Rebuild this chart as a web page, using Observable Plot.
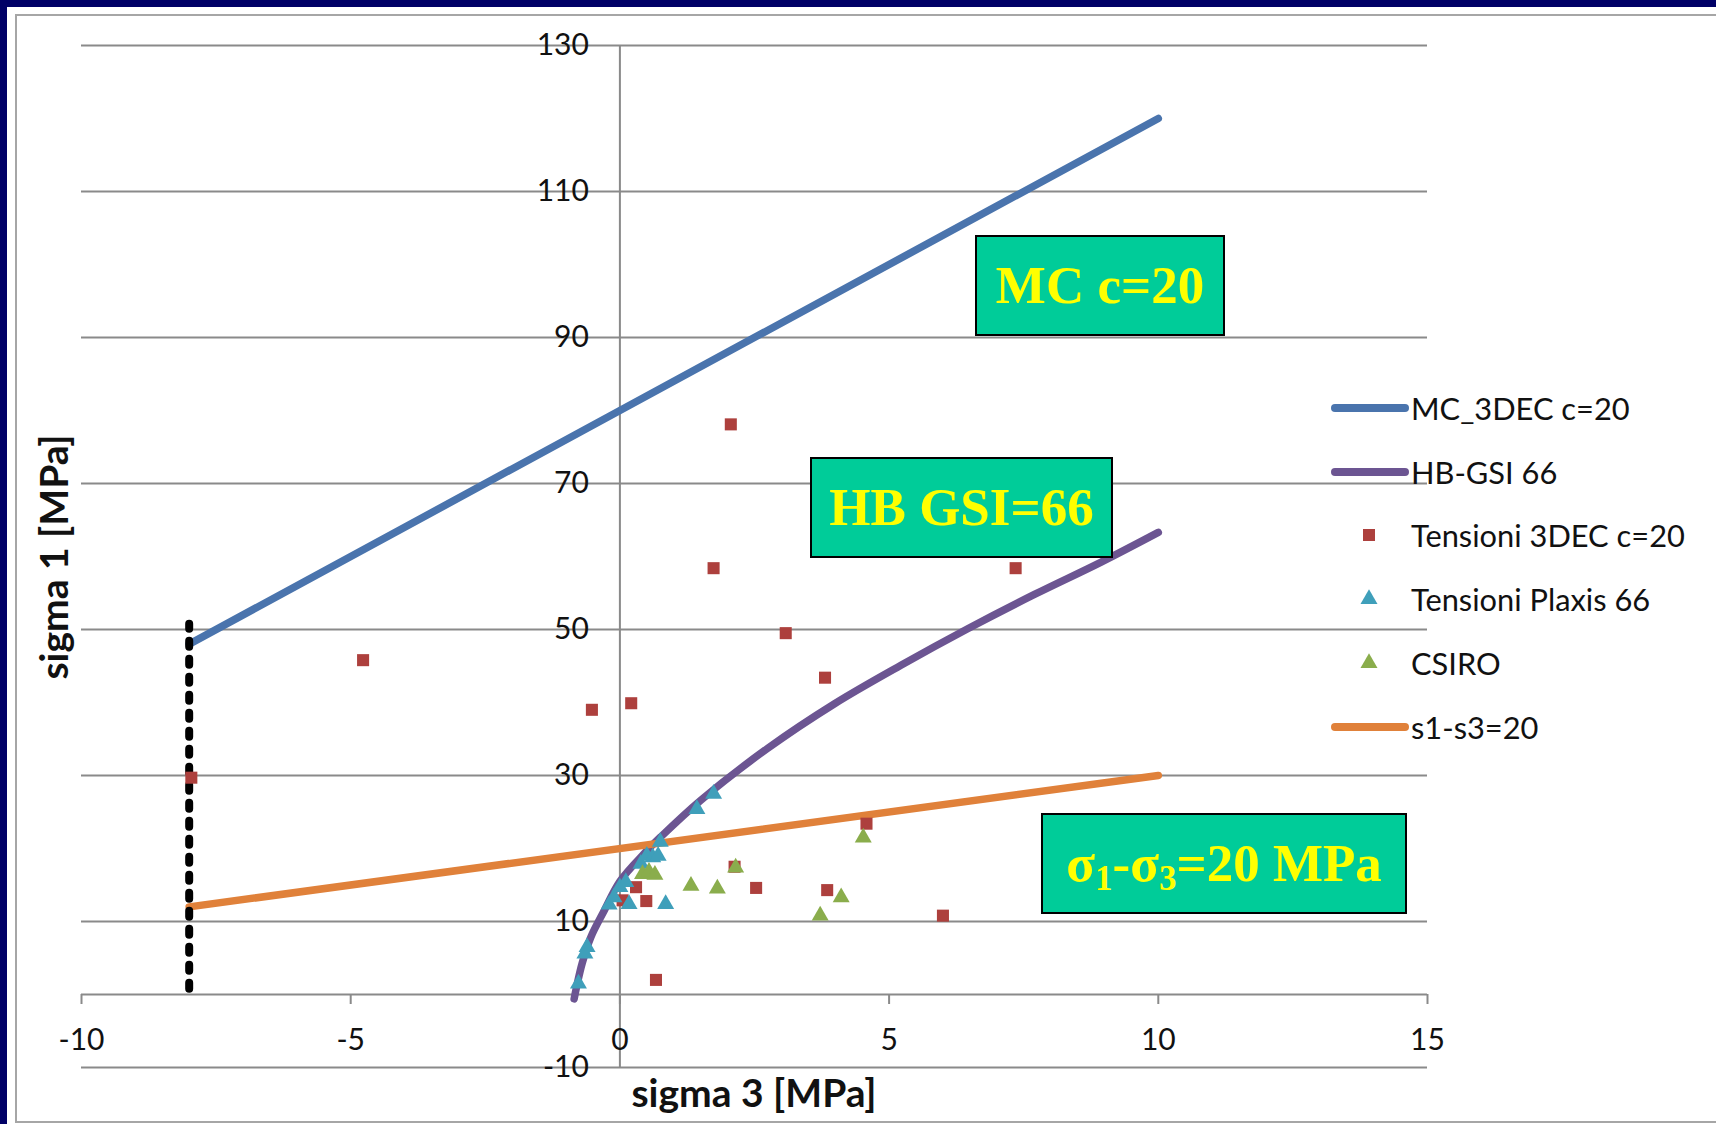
<!DOCTYPE html>
<html>
<head>
<meta charset="utf-8">
<script src="https://cdn.jsdelivr.net/npm/d3@7"></script>
<script src="https://cdn.jsdelivr.net/npm/@observablehq/plot@0.6"></script>
<style>
  html, body { margin: 0; padding: 0; width: 1716px; height: 1124px; overflow: hidden; background: #000066; }
  #page { position: absolute; left: 7px; top: 7px; width: 1709px; height: 1117px; background: #ffffff; }
  #frame { position: absolute; left: 15px; top: 14px; width: 1730px; height: 1109px; border: 2px solid #a6a6a6; box-sizing: border-box; }
  #chart { position: absolute; left: 0; top: 0; }
  .box { position: absolute; background: #00CC99; border: 2px solid #000; box-sizing: border-box;
         display: flex; align-items: center; justify-content: center; color: #ffff00;
         font-family: "Liberation Serif", "Times New Roman", serif; font-weight: bold; font-size: 53px; line-height: 1; white-space: nowrap; }
  .box sub { font-size: 0.66em; vertical-align: -0.25em; line-height: 0; }
  .title { position: absolute; font-family: Lato, "Open Sans", sans-serif; font-weight: bold; font-size: 39px; color: #111; white-space: nowrap; line-height: 1; }
  .leg { position: absolute; left: 1328px; height: 40px; display: flex; align-items: center;
         font-family: Lato, "Open Sans", sans-serif; font-size: 30.8px; color: #111; white-space: nowrap; transform: translateY(-50%); }
  .leg svg { display: block; margin-right: 1px; }
</style>
</head>
<body>
<div id="page"></div>
<div id="frame"></div>
<div id="chart"></div>
<div id="legend"></div>
<div class="title" id="xt" style="left:754px; top:1092px; transform: translate(-50%,-50%);">sigma 3 [MPa]</div>
<div class="title" id="yt" style="left:53px; top:557px; transform: translate(-50%,-50%) rotate(-90deg);">sigma 1 [MPa]</div>
<div class="box" style="left:975px; top:235px; width:250px; height:101px;"><span>MC c=20</span></div>
<div class="box" style="left:810px; top:457px; width:303px; height:101px;"><span>HB GSI=66</span></div>
<div class="box" style="left:1041px; top:813px; width:366px; height:101px;"><span>σ<sub>1</sub>-σ<sub>3</sub>=20 MPa</span></div>
<script>
// ---- data ----
const xTicks = [-10, -5, 0, 5, 10, 15];
const yTicks = [-10, 10, 30, 50, 70, 90, 110, 130];

const mcSigma3 = [-8, 0, 10];
const mcSigma1 = [48, 80, 120];

const hbSigma3 = [-0.85, -0.8, -0.7, -0.54, -0.29, 0, 0.45, 0.76, 1.5, 2.74, 3.98, 5.22, 6.46, 7.7, 8.93, 10];
const hbSigma1 = [-0.6, 1.2, 4.3, 7.85, 11.5, 15.5, 19.3, 21.6, 26.6, 33.7, 39.8, 45.1, 50.1, 54.8, 59.2, 63.3];

const dec3Sigma3 = [2.06, 1.74, 7.35, 3.08, 3.81, -4.77, 0.21, -0.52, -7.96, 4.58, 2.13, 2.53, 3.85, 6.0, 0.67, 0.30, 0.49, 0.05];
const dec3Sigma1 = [78.1, 58.4, 58.4, 49.5, 43.4, 45.8, 39.9, 39.0, 29.7, 23.4, 17.5, 14.6, 14.3, 10.8, 2.0, 14.7, 12.8, 12.9];

const plaxisSigma3 = [-0.77, -0.65, -0.61, -0.20, -0.11, 0.0, 0.11, 0.17, 0.39, 0.50, 0.61, 0.71, 0.75, 0.85, 1.43, 1.74];
const plaxisSigma1 = [1.5, 5.6, 6.5, 12.3, 13.3, 14.7, 15.4, 12.4, 17.9, 19.0, 18.8, 19.0, 20.9, 12.4, 25.4, 27.5];

const csiroSigma3 = [0.42, 0.54, 0.65, 1.32, 1.81, 2.15, 3.72, 4.11, 4.52];
const csiroSigma1 = [16.5, 16.8, 16.4, 14.9, 14.5, 17.4, 10.8, 13.3, 21.5];

const devSigma3 = [-8, 10];
const devSigma1 = [12, 30];

const limitSigma3 = [-8, -8];
const limitSigma1 = [0.8, 50.8];

const seriesNames = ["MC_3DEC c=20", "HB-GSI 66", "Tensioni 3DEC c=20", "Tensioni Plaxis 66", "CSIRO", "s1-s3=20"];
const seriesColors = ["#4a74ad", "#6c5592", "#ad403d", "#3f9fba", "#8aad4c", "#e0813a"];
const seriesKinds = ["line", "line", "square", "triangle", "triangle", "line"];

const zip = (xs, ys) => xs.map((x, i) => ({x, y: ys[i]}));
const mc = zip(mcSigma3, mcSigma1);
const hb = zip(hbSigma3, hbSigma1);
const dec3 = zip(dec3Sigma3, dec3Sigma1);
const plaxis = zip(plaxisSigma3, plaxisSigma1);
const csiro = zip(csiroSigma3, csiroSigma1);
const dev = zip(devSigma3, devSigma1);
const limit = zip(limitSigma3, limitSigma1);

const grid = "#8a8a8a";
const font = "Lato, 'Open Sans', sans-serif";

const chart = Plot.plot({
  width: 1716,
  height: 1124,
  marginLeft: 81,
  marginRight: 289,
  marginTop: 45,
  marginBottom: 57,
  x: {domain: [-10, 15], axis: null},
  y: {domain: [-10, 130], axis: null},
  style: {background: "transparent", fontFamily: font, overflow: "visible"},
  marks: [
    Plot.ruleY(yTicks, {y: d => d, x1: -10, x2: 15, stroke: grid, strokeWidth: 2}),
    Plot.ruleY([0], {y: d => d, x1: -10, x2: 15, stroke: grid, strokeWidth: 2}),
    Plot.ruleX(xTicks, {x: d => d, y1: 0, y2: 0, insetBottom: -10, stroke: grid, strokeWidth: 2}),
    Plot.ruleX([0], {x: d => d, y1: -10, y2: 130, stroke: grid, strokeWidth: 2}),
    Plot.text(yTicks, {x: 0, y: d => d, text: d => String(d), textAnchor: "end", dx: -31, fontSize: 30, fill: "#111"}),
    Plot.text(xTicks, {x: d => d, y: 0, text: d => String(d), dy: 46, fontSize: 30, fill: "#111"}),
    Plot.line(mc, {x: "x", y: "y", stroke: seriesColors[0], strokeWidth: 7.5, strokeLinecap: "round"}),
    Plot.line(hb, {x: "x", y: "y", stroke: seriesColors[1], strokeWidth: 7.5, strokeLinecap: "round", curve: "catmull-rom"}),
    Plot.line(dev, {x: "x", y: "y", stroke: seriesColors[5], strokeWidth: 7.5, strokeLinecap: "round"}),
    Plot.line(limit, {x: "x", y: "y", stroke: "#000", strokeWidth: 8, strokeDasharray: "6,12", strokeLinecap: "round"}),
    Plot.dot(dec3, {x: "x", y: "y", symbol: "square", r: 6.8, fill: seriesColors[2]}),
    Plot.dot(plaxis, {x: "x", y: "y", symbol: "triangle", r: 6.3, fill: seriesColors[3]}),
    Plot.dot(csiro, {x: "x", y: "y", symbol: "triangle", r: 6.3, fill: seriesColors[4]})
  ]
});
document.getElementById("chart").appendChild(chart);

// ---- legend ----
const legendY = [408, 472, 535, 599, 663, 727];
const legend = d3.select("#legend");
seriesNames.forEach((name, i) => {
  const row = legend.append("div").attr("class", "leg").style("top", legendY[i] + "px");
  const sw = row.append("svg").attr("width", 82).attr("height", 24);
  if (seriesKinds[i] === "line") {
    sw.append("line").attr("x1", 7).attr("x2", 77).attr("y1", 12).attr("y2", 12)
      .attr("stroke", seriesColors[i]).attr("stroke-width", 8).attr("stroke-linecap", "round");
  } else {
    const sym = seriesKinds[i] === "square" ? d3.symbolSquare : d3.symbolTriangle;
    const size = seriesKinds[i] === "square" ? 144 : 125;
    sw.append("path").attr("transform", "translate(41,12)")
      .attr("d", d3.symbol(sym, size)()).attr("fill", seriesColors[i]);
  }
  row.append("span").text(name);
});
</script>
</body>
</html>
